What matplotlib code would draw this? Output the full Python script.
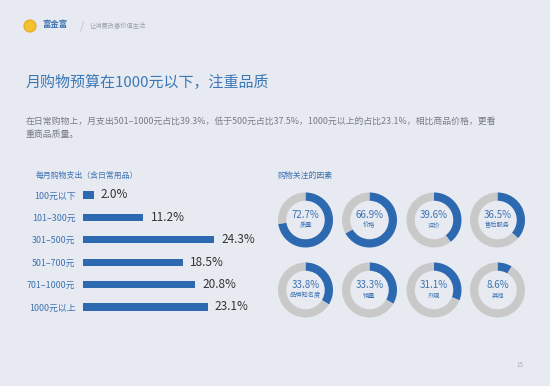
import matplotlib.pyplot as plt
from matplotlib.patches import Ellipse

plt.rcParams['font.family'] = ['Noto Sans CJK SC', 'DejaVu Sans']

# bar chart data
spend_labels = ['100元以下', '101–300元', '301–500元', '501–700元', '701–1000元', '1000元以上']
spend_share = [2.0, 11.2, 24.3, 18.5, 20.8, 23.1]

# donut data
factor_labels = ['质量', '价格', '评价', '售后服务', '品牌知名度', '销量', '外观', '其他']
factor_share = [72.7, 66.9, 39.6, 36.5, 33.8, 33.3, 31.1, 8.6]

BG = '#e7eaf1'
BLUE = '#2d69b1'
TXTBLUE = '#3c72b2'
GREY_RING = '#c9c9c9'

W, H = 550, 386
fig = plt.figure(figsize=(W / 100, H / 100), dpi=100, facecolor=BG)

def fx(px):
    return px / W

def fy(py):
    return 1 - py / H

# header
fig.patches.append(Ellipse((fx(30), fy(26)), 12 / W, 12 / H, transform=fig.transFigure,
                           facecolor='#f2c230', edgecolor='#e8a820', lw=0.8))
fig.text(fx(42), fy(25), '富金富', fontsize=6, color=TXTBLUE, weight='bold', va='center')
fig.text(fx(80), fy(26), '/', fontsize=8, color='#b8bcc6', va='center')
fig.text(fx(90), fy(26), '让消费改善价值生活', fontsize=4.5, color='#9aa0aa', va='center')

# title & paragraph
fig.text(fx(26), fy(82), '月购物预算在1000元以下，注重品质', fontsize=10.8,
         color='#3a78b8', va='center')
fig.text(fx(26), fy(121),
         '在日常购物上，月支出501–1000元占比39.3%，低于500元占比37.5%，1000元以上的占比23.1%，相比商品价格，更看',
         fontsize=6.4, color='#777b84', va='center')
fig.text(fx(26), fy(135), '重商品质量。', fontsize=6.4, color='#777b84', va='center')

# bar chart
fig.text(fx(36), fy(175), '每月购物支出（含日常用品）', fontsize=5.7, color=TXTBLUE, va='center')
ax = fig.add_axes([fx(83), fy(318.2), fx(162), 134.4 / H])
ax.set_facecolor('none')
ypos = list(range(len(spend_share)))
ax.barh(ypos, spend_share, height=0.32, color=BLUE)
for y, v in zip(ypos, spend_share):
    ax.text(v + 1.3, y, f'{v:.1f}%', fontsize=8.5, color='#333333', va='center')
ax.set_xlim(0, 30)
ax.set_ylim(5.5, -0.5)
ax.set_yticks(ypos)
ax.set_yticklabels(spend_labels, fontsize=6.4, color=TXTBLUE)
ax.tick_params(axis='y', length=0, pad=5.5)
ax.set_xticks([])
for s in ax.spines.values():
    s.set_visible(False)

# donuts
fig.text(fx(278), fy(175), '购物关注的因素', fontsize=5.7, color=TXTBLUE, va='center')
centers_x = [305.5, 369.5, 434, 497.5]
centers_y = [220, 290]
r = 27.5
for i, (lab, v) in enumerate(zip(factor_labels, factor_share)):
    cx = centers_x[i % 4]
    cy = centers_y[i // 4]
    dax = fig.add_axes([fx(cx - r), fy(cy + r), fx(2 * r), 2 * r / H])
    dax.pie([v, 100 - v], colors=[BLUE, GREY_RING], startangle=90, counterclock=False,
            radius=1, wedgeprops=dict(width=0.3, linewidth=0))
    dax.set_xlim(-1, 1)
    dax.set_ylim(-1, 1)
    dax.set_aspect('equal')
    dax.axis('off')
    dax.text(0, 0.17, f'{v}%', fontsize=7, color=TXTBLUE, ha='center', va='center')
    dax.text(0, -0.2, lab, fontsize=4.5, color=TXTBLUE, ha='center', va='center')

# page number
fig.text(fx(520), fy(365), '15', fontsize=4.5, color='#a8acb4', va='center', ha='center')

fig.savefig('out.png', dpi=100, facecolor=BG)
